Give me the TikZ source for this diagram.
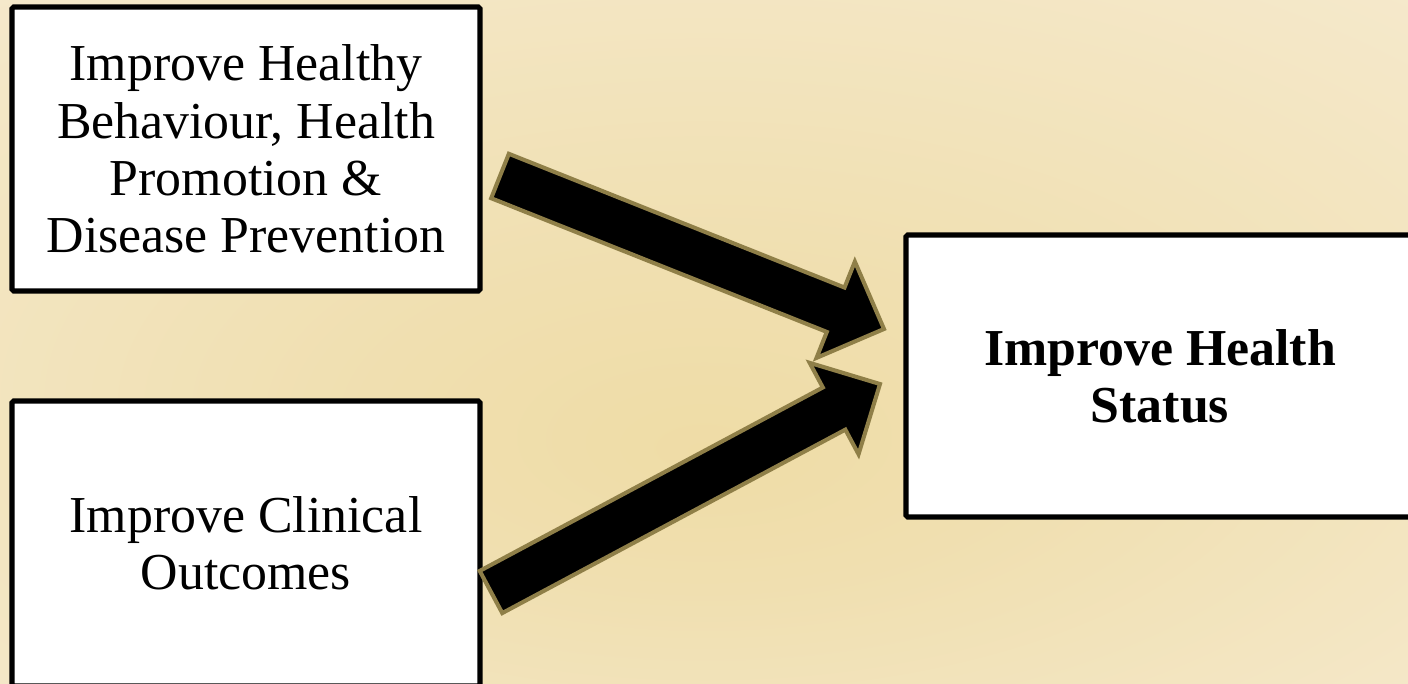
\documentclass[tikz,border=0pt]{standalone}
\usepackage{fontspec}
\setmainfont{Liberation Serif}
\usetikzlibrary{calc}

\definecolor{arrowrim}{RGB}{143,127,72}
\pgfdeclareradialshading{backdrop}{\pgfpoint{0bp}{-8bp}}{%
  rgb(0bp)=(0.937,0.863,0.651);
  rgb(12bp)=(0.941,0.875,0.690);
  rgb(38bp)=(0.961,0.914,0.800);
  rgb(50bp)=(0.969,0.929,0.835)}

% fat arrow from #1 to #2 (tail middle to tip)
\newcommand{\blockarrow}[2]{%
  \draw[fatarrow] let \p1=($(#2)-(#1)$), \n1={atan2(\y1,\x1)},
      \n2={veclen(\x1,\y1)} in
    [shift={(#1)}, rotate=\n1]
    (0pt,-13.6pt) -- ({\n2-29.6pt},-13.6pt) -- ({\n2-29.6pt},-29.5pt) -- (\n2,0pt)
    -- ({\n2-29.6pt},29.5pt) -- ({\n2-29.6pt},13.6pt) -- (0pt,13.6pt) -- cycle;}

\begin{document}
\begin{tikzpicture}[
  x=0.2mm, y=-0.2mm,
  box/.style={draw, fill=white, line width=2.9pt, rounded corners=1pt,
    inner sep=0pt, align=center, font=\fontsize{29.5}{32.6}\selectfont},
  fatarrow/.style={fill=black, draw=arrowrim, line width=2.3pt, line join=miter}
]
  % Hintergrund
  \useasboundingbox (0,0) rectangle (1408,684);
  \shade[shading=backdrop] (0,0) rectangle (1408,684);

  % Kästen
  \node[box, minimum width=93.6mm, minimum height=56.8mm] (behaviour) at (246,149)
    {Improve Healthy\\Behaviour, Health\\Promotion \&\\Disease Prevention};
  \node[box, minimum width=93.6mm, minimum height=57mm] (clinical) at (246,543.5)
    {Improve Clinical\\Outcomes};
  \node[box, minimum width=101.6mm, minimum height=56.4mm] (status) at (1160,376)
    {\bfseries Improve Health\\\bfseries Status};

  % Pfeile
  \coordinate (a1) at (500,176);
  \coordinate (b1) at (884,329);
  \coordinate (a2) at (491,592);
  \coordinate (b2) at (880,384);
  \blockarrow{a1}{b1}
  \blockarrow{a2}{b2}
\end{tikzpicture}
\end{document}
